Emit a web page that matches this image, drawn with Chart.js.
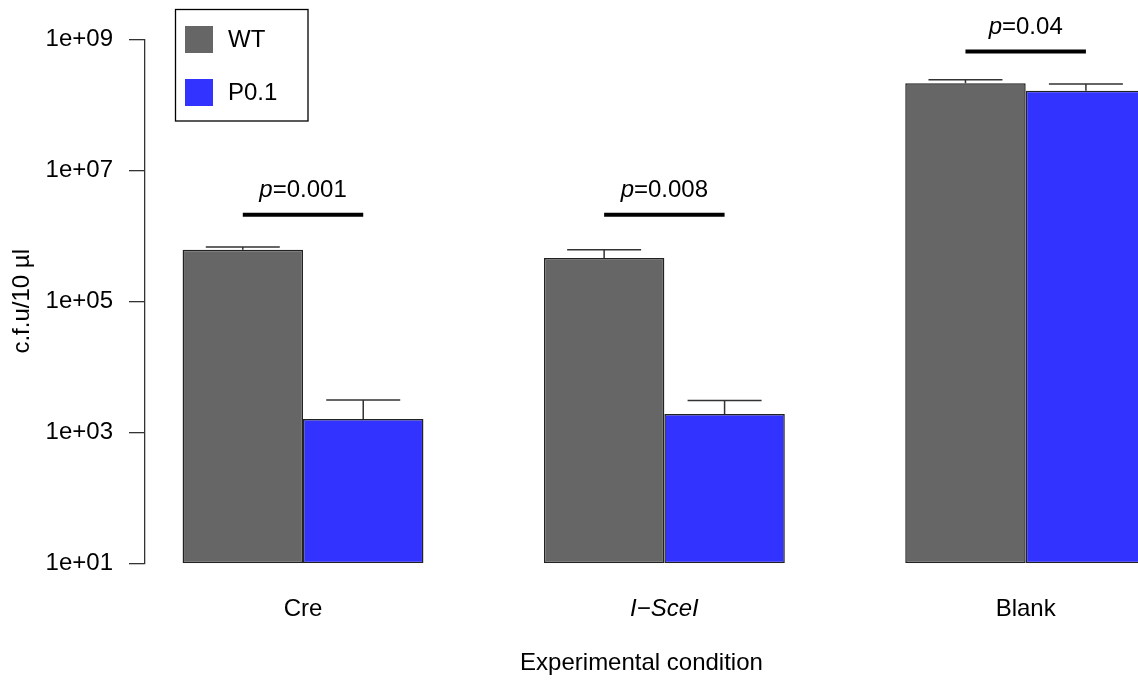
<!DOCTYPE html>
<html>
<head>
<meta charset="utf-8">
<script src="https://cdn.jsdelivr.net/npm/chart.js@4.4.1/dist/chart.umd.min.js"></script>
<style>
html, body { margin: 0; padding: 0; background: #fff; }
#wrap { width: 1138px; height: 682px; }
</style>
</head>
<body>
<div id="wrap"><canvas id="barChart" width="1138" height="682"></canvas></div>
<script>
const conditions = ['Cre', 'I\u2212SceI', 'Blank'];
const conditionPos = [1, 2, 3];
const wtMeans = [6.1e5, 4.6e5, 2.13e8];
const wtUpper = [6.75e5, 6.1e5, 2.42e8];
const p01Means = [1.6e3, 1.9e3, 1.64e8];
const p01Upper = [3.1e3, 3.05e3, 2.08e8];
const pValues = ['0.001', '0.008', '0.04'];
const pBarHeights = [2.1e6, 2.1e6, 6.5e8];
const yTickValues = [1e1, 1e3, 1e5, 1e7, 1e9];
const yTickLabels = ['1e+01', '1e+03', '1e+05', '1e+07', '1e+09'];

const FONT = '"Liberation Sans", Arial, Helvetica, sans-serif';
Chart.defaults.font.family = FONT;
Chart.defaults.font.size = 24;
Chart.defaults.color = '#000';

// error bars, upward only, like the original
const errorBars = {
    id: 'errorBars',
    afterDatasetsDraw(chart) {
        const ctx = chart.ctx;
        const y = chart.scales.y;
        const uppers = [wtUpper, p01Upper];
        ctx.save();
        ctx.strokeStyle = '#333';
        ctx.lineWidth = 1.5;
        uppers.forEach((up, d) => {
            chart.getDatasetMeta(d).data.forEach((bar, i) => {
                const yTop = y.getPixelForValue(up[i]);
                ctx.beginPath();
                ctx.moveTo(bar.x, bar.y);
                ctx.lineTo(bar.x, yTop);
                ctx.moveTo(bar.x - 37, yTop);
                ctx.lineTo(bar.x + 37, yTop);
                ctx.stroke();
            });
        });
        ctx.restore();
    }
};

// significance bars with p labels + legend box
const annotations = {
    id: 'annotations',
    afterDraw(chart) {
        const ctx = chart.ctx;
        const y = chart.scales.y;
        const wtMeta = chart.getDatasetMeta(0);
        const pMeta = chart.getDatasetMeta(1);
        ctx.save();
        pValues.forEach((p, i) => {
            const x1 = wtMeta.data[i].x;
            const x2 = pMeta.data[i].x;
            const yy = y.getPixelForValue(pBarHeights[i]);
            ctx.strokeStyle = '#000';
            ctx.lineWidth = 4;
            ctx.beginPath();
            ctx.moveTo(x1, yy);
            ctx.lineTo(x2, yy);
            ctx.stroke();

            const italic = 'italic 24px ' + FONT;
            const normal = '24px ' + FONT;
            ctx.font = italic;
            const w1 = ctx.measureText('p').width;
            ctx.font = normal;
            const w2 = ctx.measureText('=' + p).width;
            const start = (x1 + x2) / 2 - (w1 + w2) / 2;
            ctx.fillStyle = '#000';
            ctx.textBaseline = 'alphabetic';
            ctx.textAlign = 'left';
            ctx.font = italic;
            ctx.fillText('p', start, yy - 18);
            ctx.font = normal;
            ctx.fillText('=' + p, start + w1, yy - 18);
        });

        // legend
        ctx.lineWidth = 1.3;
        ctx.strokeStyle = '#000';
        ctx.strokeRect(175.5, 9.5, 132.5, 111.5);
        chart.data.datasets.forEach((ds, i) => {
            const top = 26 + i * 53;
            ctx.fillStyle = ds.backgroundColor;
            ctx.fillRect(185, top, 28, 27);
            ctx.fillStyle = '#000';
            ctx.font = '24px ' + FONT;
            ctx.textBaseline = 'middle';
            ctx.fillText(ds.label, 228, top + 14);
        });
        ctx.restore();
    }
};

const data = {
    datasets: [{
        label: 'WT',
        data: conditionPos.map((x, i) => ({ x: x, y: wtMeans[i] })),
        backgroundColor: '#666666',
        borderColor: '#222',
        borderWidth: 1.5,
        borderSkipped: false,
        clip: 0
    }, {
        label: 'P0.1',
        data: conditionPos.map((x, i) => ({ x: x, y: p01Means[i] })),
        backgroundColor: '#3333ff',
        borderColor: '#222',
        borderWidth: 1.5,
        borderSkipped: false,
        clip: 0
    }]
};

const config = {
    type: 'bar',
    data: data,
    options: {
        responsive: false,
        animation: false,
        layout: { padding: { top: 39.3, left: 0, right: 0, bottom: 0 } },
        datasets: {
            bar: { categoryPercentage: 2 / 3, barPercentage: 1 }
        },
        scales: {
            x: {
                type: 'linear',
                offset: false,
                min: 0.5627,
                max: 3.3108,
                afterBuildTicks: scale => { scale.ticks = conditionPos.map(v => ({ value: v })); },
                afterFit: scale => { scale.height = 682 - 563.3; },
                grid: { display: false, drawTicks: false },
                border: { display: false },
                ticks: {
                    padding: 32,
                    color: '#000',
                    maxRotation: 0,
                    callback: (v, i) => conditions[i],
                    font: c => ({ family: FONT, size: 24, style: c.index === 1 ? 'italic' : 'normal' })
                },
                title: {
                    display: true,
                    text: 'Experimental condition',
                    color: '#000',
                    font: { size: 24 },
                    padding: { top: 0, bottom: 4 }
                }
            },
            y: {
                type: 'logarithmic',
                min: 10,
                max: 1e9,
                afterBuildTicks: scale => { scale.ticks = yTickValues.map(v => ({ value: v })); },
                afterFit: scale => { scale.width = 145; },
                grid: { drawOnChartArea: false, drawTicks: true, tickLength: 16, color: '#333', lineWidth: 1.3 },
                border: { display: true, color: '#333', width: 1.3 },
                ticks: {
                    padding: 16,
                    color: '#000',
                    callback: (v, i) => yTickLabels[i]
                },
                title: {
                    display: true,
                    text: 'c.f.u/10 \u00b5l',
                    color: '#000',
                    font: { size: 24 },
                    padding: { top: 8, bottom: 0 }
                }
            }
        },
        plugins: {
            legend: { display: false },
            tooltip: { enabled: false }
        }
    },
    plugins: [errorBars, annotations]
};

new Chart(document.getElementById('barChart').getContext('2d'), config);
</script>
</body>
</html>
